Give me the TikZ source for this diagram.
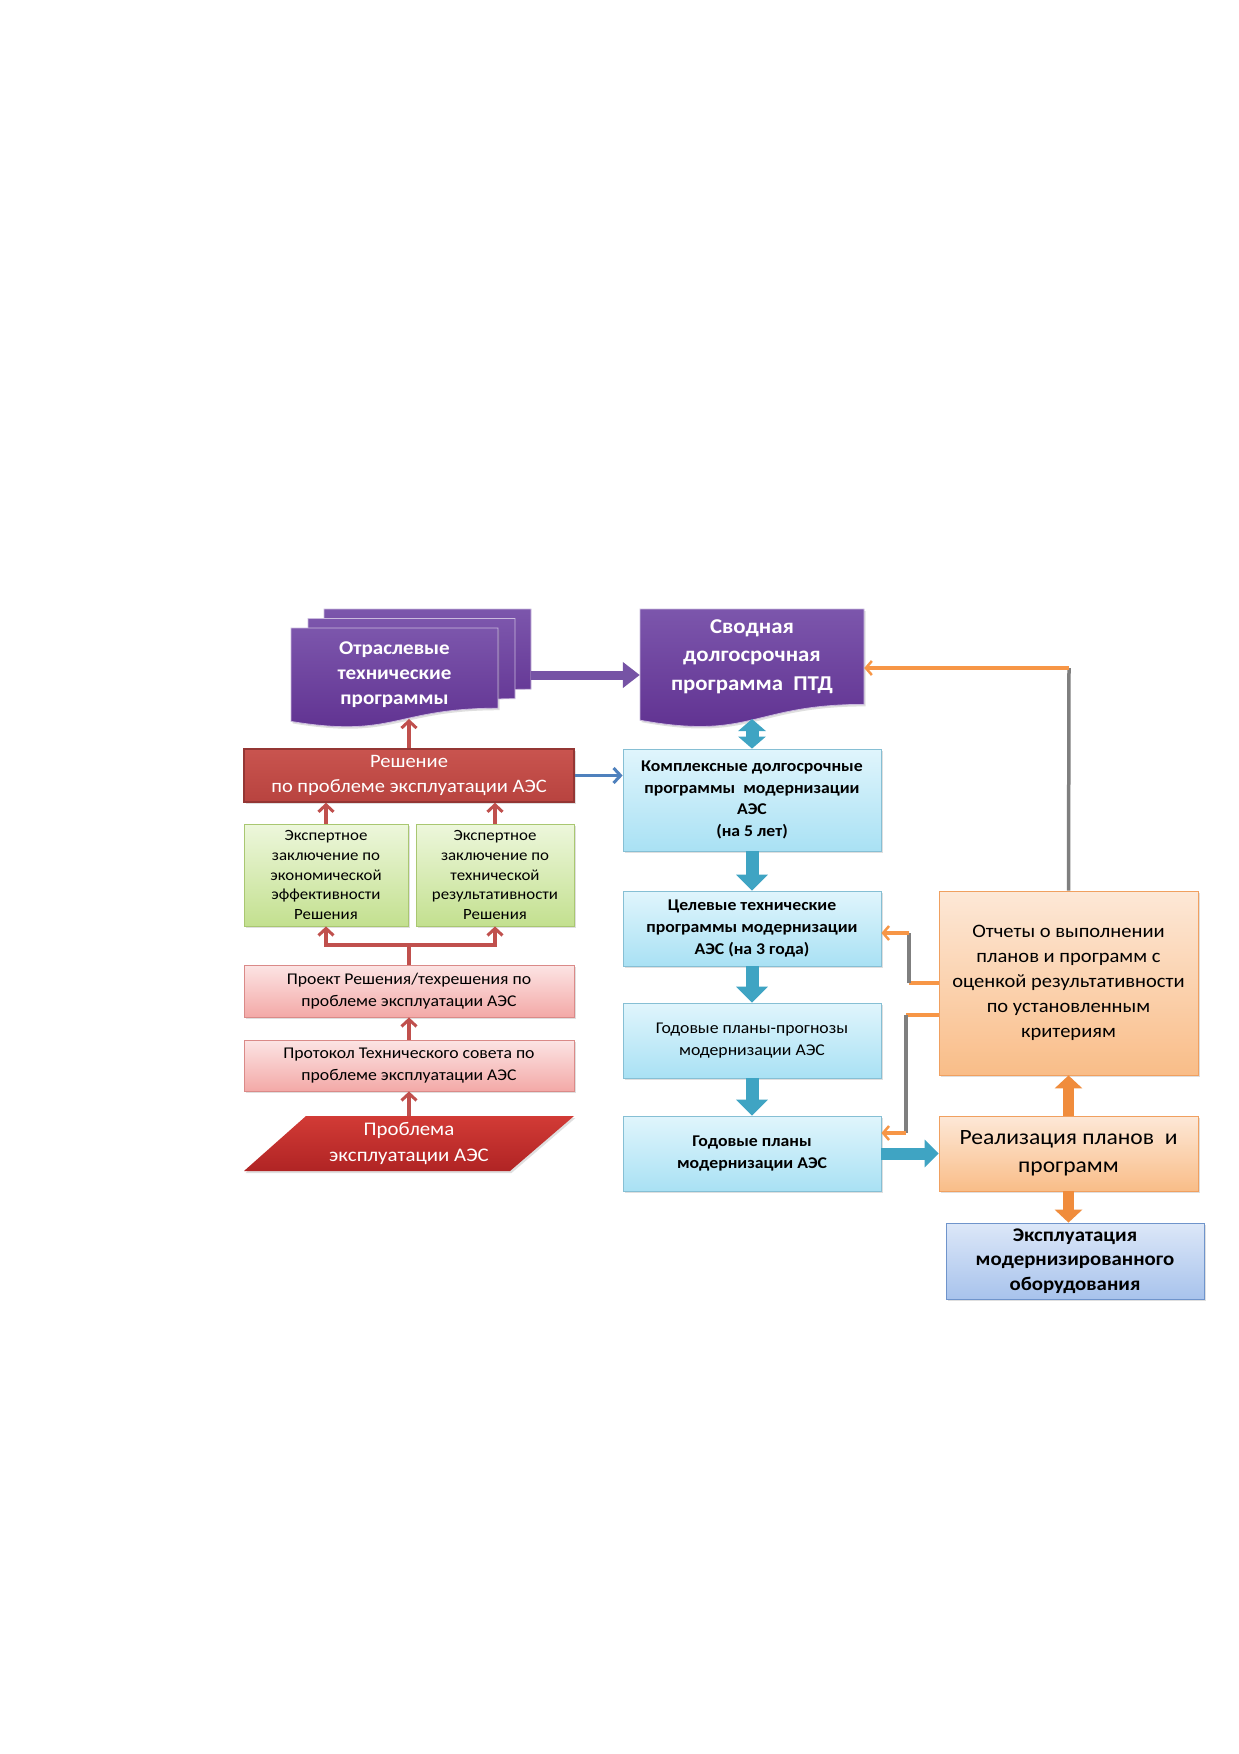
\documentclass[tikz,border=0pt]{standalone}
\usepackage{fontspec}
\setmainfont{Carlito}[FakeStretch=1.08]
\usetikzlibrary{arrows.meta,shadows,backgrounds,calc}
\definecolor{purpA}{HTML}{7C56AC}
\definecolor{purpB}{HTML}{5E2F8F}
\definecolor{purpArrow}{HTML}{7653A5}
\definecolor{reshA}{HTML}{C9544F}
\definecolor{reshB}{HTML}{B8433F}
\definecolor{reshD}{HTML}{943634}
\definecolor{grnA}{HTML}{EDF7DC}
\definecolor{grnB}{HTML}{C3E08F}
\definecolor{grnD}{HTML}{A9C771}
\definecolor{pnkA}{HTML}{FCE4E4}
\definecolor{pnkB}{HTML}{F3A9A7}
\definecolor{pnkD}{HTML}{DA8A88}
\definecolor{prbA}{HTML}{D23B36}
\definecolor{prbB}{HTML}{B02424}
\definecolor{bluA}{HTML}{E0F5FC}
\definecolor{bluB}{HTML}{A9E1F4}
\definecolor{bluD}{HTML}{86BFD4}
\definecolor{orgA}{HTML}{FDE8D7}
\definecolor{orgB}{HTML}{F9BD88}
\definecolor{orgD}{HTML}{F0A060}
\definecolor{expA}{HTML}{DCE7F8}
\definecolor{expB}{HTML}{A8C3EC}
\definecolor{expD}{HTML}{6F94CB}
\definecolor{fatblue}{HTML}{3FA4C3}
\definecolor{fatorange}{HTML}{F08C3C}
\definecolor{redarrow}{HTML}{C0504D}
\definecolor{thinblue}{HTML}{4F81BD}
\definecolor{thinorange}{HTML}{F79646}
\definecolor{linegray}{HTML}{7F7F7F}
\begin{document}
\begin{tikzpicture}[x=1pt,y=-1pt,
  box/.style={rectangle, align=center, inner sep=2pt, line width=0.8pt,
    drop shadow={opacity=0.25,shadow xshift=1.5pt,shadow yshift=-2pt}},
  bluebox/.style={box, draw=bluD, top color=bluA, bottom color=bluB,
    minimum width=258pt, font=\fontsize{16.4}{21.7}\selectfont},
  orgbox/.style={box, draw=orgD, top color=orgA, bottom color=orgB, minimum width=259pt},
  grnbox/.style={box, draw=grnD, top color=grnA, bottom color=grnB, minimum height=102pt,
    font=\fontsize{15.6}{19.9}\selectfont},
  pnkbox/.style={box, draw=pnkD, top color=pnkA, bottom color=pnkB, minimum width=330pt,
    font=\fontsize{16.4}{22.4}\selectfont},
  txt/.style={rectangle, align=center, inner sep=0pt},
  redarr/.style={draw=redarrow, line width=3.5pt, -{Straight Barb[length=7pt,width=15pt,line width=3pt]}},
  orgline/.style={draw=thinorange, line width=3.2pt},
  grayline/.style={draw=linegray, line width=3.5pt},
  orgarr/.style={orgline, -{Straight Barb[length=6pt,width=14pt,line width=2.5pt]}},
  fatb/.style={draw=fatblue, line width=13pt, -{Triangle[length=16pt,width=31pt]}},
  fatbb/.style={draw=fatblue, line width=13pt, {Triangle[length=12pt,width=27pt]}-{Triangle[length=12pt,width=27pt]}},
  fato/.style={draw=fatorange, line width=11pt, -{Triangle[length=13pt,width=27pt]}},
]
\begin{pgfonlayer}{background}
\fill[white] (0,0) rectangle (1239,1754);
\end{pgfonlayer}
\useasboundingbox (0,0) rectangle (1239,1754);

% ---------- nodes ----------
\node[txt, minimum width=207pt, minimum height=80pt] (otr3) at (427.5,649) {};
\node[txt, minimum width=207pt, minimum height=80pt] (otr2) at (411.5,658) {};
\node[txt, minimum width=207pt, minimum height=94pt, text=white,
  font=\fontsize{19.5}{25}\selectfont\bfseries] (otr) at (394.5,675)
  {Отраслевые\\технические\\программы};
\node[txt, minimum width=224pt, minimum height=95pt, text=white,
  font=\fontsize{21.1}{28.5}\selectfont\bfseries] (svod) at (752,656.5)
  {Сводная\\долгосрочная\\программа\ \ ПТД};

\node[box, draw=reshD, line width=1.5pt, top color=reshA, bottom color=reshB,
  minimum width=330pt, minimum height=53pt, text=white,
  font=\fontsize{19}{24.5}\selectfont] (resh) at (409,775.5)
  {Решение\\по проблеме эксплуатации АЭС};
\node[grnbox, minimum width=164pt] (ek1) at (326,875)
  {Экспертное\\заключение по\\экономической\\эффективности\\Решения};
\node[grnbox, minimum width=158pt] (ek2) at (495,875)
  {Экспертное\\заключение по\\технической\\результативности\\Решения};
\node[pnkbox, minimum height=52pt] (proj) at (409,991)
  {Проект Решения/техрешения по\\проблеме эксплуатации АЭС};
\node[pnkbox, minimum height=51pt] (prot) at (409,1065.5)
  {Протокол Технического совета по\\проблеме эксплуатации АЭС};
\node[txt, minimum width=330pt, minimum height=55pt, text=white,
  font=\fontsize{19.3}{25.7}\selectfont] (probl) at (409,1143.5)
  {Проблема\\эксплуатации АЭС};

\node[bluebox, minimum height=102pt, font=\fontsize{16.4}{21.6}\selectfont\bfseries] (komp) at (752,800)
  {Комплексные долгосрочные\\программы\ \ модернизации\\АЭС\\(на 5 лет)};
\node[bluebox, minimum height=75pt, font=\fontsize{16.4}{21.8}\selectfont\bfseries] (cel) at (752,928.5)
  {Целевые технические\\программы модернизации\\АЭС (на 3 года)};
\node[bluebox, minimum height=75pt] (prog) at (752,1040.5)
  {Годовые планы-прогнозы\\модернизации АЭС};
\node[bluebox, minimum height=75pt, font=\fontsize{16.4}{21.8}\selectfont\bfseries] (god) at (752,1153.5)
  {Годовые планы\\модернизации АЭС};

\node[orgbox, minimum height=184pt, font=\fontsize{19}{25}\selectfont] (otch) at (1068.5,983)
  {Отчеты о выполнении\\планов и программ с\\оценкой результативности\\по установленным\\критериям};
\node[orgbox, minimum height=75pt, font=\fontsize{21.8}{28}\selectfont] (real) at (1068.5,1153.5)
  {Реализация планов\ \ и\\программ};
\node[box, draw=expD, top color=expA, bottom color=expB, minimum width=258pt,
  minimum height=76pt, font=\fontsize{19.3}{24.6}\selectfont\bfseries] (expl) at (1075,1261)
  {Эксплуатация\\модернизированного\\оборудования};

% ---------- shapes behind text ----------
\begin{pgfonlayer}{background}
\shade[top color=purpA, bottom color=purpB, draw=white!60!purpA, line width=0.8pt]
  (324,609) -- (531,609) -- (531,689.2) .. controls (427.5,689.2) and (427.5,719.7) .. (324,702.4) -- cycle;
\shade[top color=purpA, bottom color=purpB, draw=white!60!purpA, line width=0.8pt]
  (308,618.5) -- (515,618.5) -- (515,698.7) .. controls (411.5,698.7) and (411.5,729.2) .. (308,711.9) -- cycle;
\shade[top color=purpA, bottom color=purpB, draw=white!60!purpA, line width=0.8pt,
  drop shadow={opacity=0.25,shadow xshift=1.5pt,shadow yshift=-2pt}]
  (291,628) -- (498,628) -- (498,708.2) .. controls (394.5,708.2) and (394.5,738.7) .. (291,721.4) -- cycle;
\shade[top color=purpA, bottom color=purpB, draw=white!60!purpA, line width=0.8pt,
  drop shadow={opacity=0.25,shadow xshift=1.5pt,shadow yshift=-2pt}]
  (640,609) -- (864,609) -- (864,704.4) .. controls (752,704.4) and (752,740.7) .. (640,720.2) -- cycle;
\shade[top color=prbA, bottom color=prbB,
  drop shadow={opacity=0.25,shadow xshift=1.5pt,shadow yshift=-2pt}]
  (306,1116) -- (574,1116) -- (510,1171) -- (244,1171) -- cycle;
\end{pgfonlayer}

% ---------- connectors ----------
\coordinate (otrb) at (409,719);
\coordinate (svodb) at (752,719);
\coordinate (jn) at (409,945);
\coordinate (fb1) at (1069,668);
\coordinate (c1) at (909,983);
\coordinate (c2) at (909,933);
\coordinate (c3) at (906,1015);
\coordinate (c4) at (906,1133);

\draw[draw=purpArrow, line width=9pt, -{Triangle[length=17pt,width=25pt]}]
  (otr3.east|-otr.center) -- (svod.west|-otr.center);
\draw[redarr] (resh.north) -- (otrb);
\draw[draw=thinblue, line width=3.5pt, -{Straight Barb[length=7pt,width=15pt,line width=3pt]}]
  (resh.east) -- (komp.west|-resh.east);
\draw[redarr] (ek1.north) -- (ek1.north|-resh.south);
\draw[redarr] (ek2.north) -- (ek2.north|-resh.south);
\draw[draw=redarrow, line width=3.5pt] (proj.north) -- (jn);
\draw[redarr] (jn) -| (ek1.south);
\draw[redarr] (jn) -| (ek2.south);
\draw[redarr] (prot.north) -- (proj.south);
\draw[redarr] (probl.north) -- (prot.south);

\draw[fatbb] (svodb) -- (komp.north);
\draw[fatb] (komp.south) -- (cel.north);
\draw[fatb] (cel.south) -- (prog.north);
\draw[fatb] (prog.south) -- (god.north);
\draw[draw=fatblue, line width=12pt, -{Triangle[length=14pt,width=27pt]}] (god.east) -- (real.west);

\draw[fato] (real.north) -- (otch.south);
\draw[fato] (real.south) -- (real.south|-expl.north);

\draw[grayline] (otch.north) -- (fb1);
\draw[orgarr] (fb1) -- (svod.east|-fb1);
\draw[orgline] (otch.west) -- (c1);
\draw[grayline] (c1) -- (c2);
\draw[orgarr] (c2) -- (cel.east|-c2);
\draw[orgline] (otch.west|-c3) -- (c3);
\draw[grayline] (c3) -- (c4);
\draw[orgarr] (c4) -- (god.east|-c4);
\end{tikzpicture}
\end{document}
